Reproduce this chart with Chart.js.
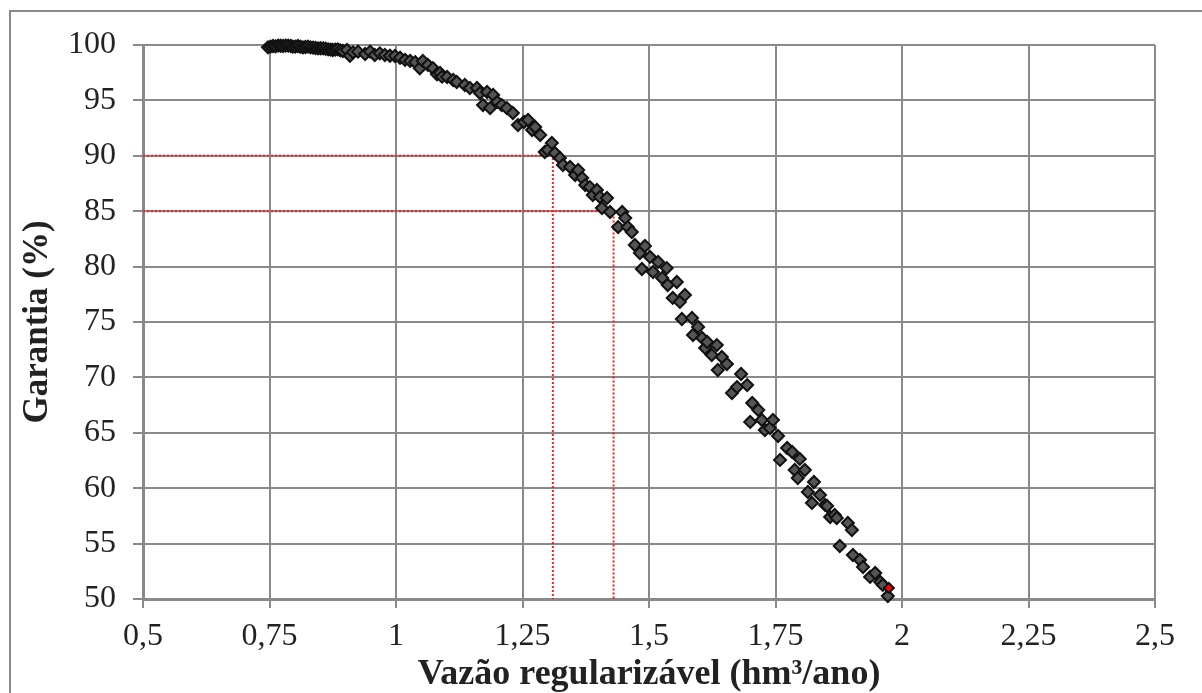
<!DOCTYPE html>
<html>
<head>
<meta charset="utf-8">
<script src="https://cdn.jsdelivr.net/npm/chart.js@4"></script>
<style>
  body { margin: 0; background: #fff; overflow: hidden; }
  #frame { position: absolute; left: 9px; top: 10px; width: 1200px; height: 700px; border: 2px solid #8a8a8a; box-sizing: border-box; }
  #chart { position: absolute; left: 0; top: 0; }
</style>
</head>
<body>
<div id="frame"></div>
<canvas id="chart" width="1202" height="693"></canvas>
<script>
// Vazão regularizável (hm³/ano) x Garantia (%)
const vazao = [
  0.747, 0.752, 0.757, 0.762, 0.767, 0.772, 0.777, 0.782, 0.787, 0.792,
  0.796, 0.801, 0.806, 0.811, 0.816, 0.821, 0.826, 0.831, 0.836, 0.841,
  0.846, 0.851, 0.856, 0.861, 0.866, 0.871, 0.875, 0.880, 0.885, 0.890,
  0.895, 0.903, 0.909, 0.915, 0.925, 0.939, 0.949, 0.958, 0.968, 0.978,
  0.988, 0.998, 1.008, 1.018, 1.028, 1.038, 1.047, 1.053, 1.063, 1.073,
  1.081, 1.087, 1.091, 1.101, 1.113, 1.120, 1.136, 1.146, 1.160, 1.166,
  1.172, 1.180, 1.186, 1.192, 1.200, 1.209, 1.219, 1.231, 1.241, 1.253,
  1.261, 1.269, 1.275, 1.285, 1.294, 1.300, 1.308, 1.314, 1.324, 1.330,
  1.344, 1.354, 1.360, 1.368, 1.374, 1.383, 1.389, 1.397, 1.403, 1.407,
  1.417, 1.423, 1.439, 1.447, 1.453, 1.458, 1.466, 1.472, 1.482, 1.486,
  1.492, 1.502, 1.508, 1.518, 1.526, 1.535, 1.537, 1.547, 1.555, 1.561,
  1.565, 1.571, 1.585, 1.587, 1.597, 1.605, 1.611, 1.615, 1.624, 1.634,
  1.636, 1.644, 1.654, 1.664, 1.674, 1.682, 1.694, 1.700, 1.704, 1.716,
  1.723, 1.729, 1.739, 1.745, 1.755, 1.759, 1.773, 1.783, 1.788, 1.794,
  1.798, 1.808, 1.814, 1.822, 1.826, 1.838, 1.848, 1.852, 1.858, 1.867,
  1.871, 1.877, 1.893, 1.901, 1.903, 1.917, 1.923, 1.937, 1.947, 1.957,
  1.962, 1.972
];
const garantia = [
  99.79, 99.86, 99.91, 99.88, 99.95, 99.93, 99.91, 99.95, 99.95, 99.91,
  99.85, 99.86, 99.91, 99.84, 99.79, 99.82, 99.85, 99.79, 99.76, 99.73,
  99.70, 99.71, 99.70, 99.66, 99.61, 99.59, 99.55, 99.59, 99.61, 99.52,
  99.46, 99.55, 99.03, 99.34, 99.40, 99.19, 99.40, 99.10, 99.25, 99.10,
  99.03, 99.01, 98.85, 98.65, 98.56, 98.44, 97.90, 98.56, 98.20, 97.90,
  97.36, 97.47, 97.14, 97.11, 96.84, 96.66, 96.39, 96.12, 96.12, 95.67,
  94.58, 95.76, 94.31, 95.49, 94.86, 94.58, 94.31, 93.86, 92.78, 93.05,
  93.23, 92.33, 92.60, 91.88, 90.34, 90.52, 91.16, 90.25, 89.80, 89.17,
  88.99, 88.27, 88.72, 88.00, 87.36, 87.18, 86.46, 86.91, 86.28, 85.29,
  86.19, 84.93, 83.57, 84.93, 84.39, 83.57, 83.12, 81.95, 81.23, 79.78,
  81.86, 80.87, 79.51, 80.42, 78.97, 79.87, 78.34, 77.17, 78.61, 76.81,
  75.27, 77.44, 75.36, 73.83, 74.55, 73.56, 72.65, 73.20, 72.02, 72.92,
  70.67, 71.84, 71.21, 68.59, 69.13, 70.31, 69.31, 65.98, 67.69, 67.06,
  66.16, 65.25, 65.43, 66.16, 64.71, 62.55, 63.63, 63.27, 61.64, 60.92,
  62.64, 61.64, 59.66, 58.67, 60.56, 59.39, 58.49, 58.39, 57.40, 57.58,
  57.31, 54.78, 56.86, 56.23, 53.97, 53.52, 52.89, 51.99, 52.35, 51.54,
  51.27, 50.27
];
const destaqueX = [1.974];
const destaqueY = [51.0];

// reference lines: 90% and 85% guarantee
const ref90X = [0.5, 1.31, 1.31];
const ref90Y = [90, 90, 50];
const ref85X = [0.5, 1.43, 1.43];
const ref85Y = [85, 85, 50];

const xTicks = [0.5, 0.75, 1, 1.25, 1.5, 1.75, 2, 2.25, 2.5];
const yTicks = [50, 55, 60, 65, 70, 75, 80, 85, 90, 95, 100];

const pts = (xs, ys) => xs.map((x, i) => ({ x: x, y: ys[i] }));
const fmt = v => String(Number(v.toFixed(2))).replace('.', ',');

const gridColor = '#8a8a8a';
const serif = '"Liberation Serif", "DejaVu Serif", serif';

const refLine = {
  showLine: true,
  borderColor: '#ff1a1a',
  borderWidth: 2,
  borderDash: [2, 2],
  pointRadius: 0,
  fill: false,
  order: 2
};

new Chart(document.getElementById('chart'), {
  type: 'scatter',
  data: {
    datasets: [
      Object.assign({ data: pts(ref90X, ref90Y) }, refLine),
      Object.assign({ data: pts(ref85X, ref85Y) }, refLine),
      {
        data: pts(vazao, garantia),
        pointStyle: 'rectRot',
        pointRadius: 6,
        pointBackgroundColor: '#555555',
        pointBorderColor: '#111111',
        pointBorderWidth: 2,
        clip: false,
        order: 1
      },
      {
        data: pts(destaqueX, destaqueY),
        pointStyle: 'rectRot',
        pointRadius: 5,
        pointBackgroundColor: '#ff0000',
        pointBorderColor: '#111111',
        pointBorderWidth: 2,
        clip: false,
        order: 0
      }
    ]
  },
  options: {
    responsive: false,
    animation: false,
    layout: { padding: { left: 0, right: 47, top: 45, bottom: 0 } },
    plugins: { legend: { display: false }, tooltip: { enabled: false } },
    scales: {
      x: {
        type: 'linear',
        min: 0.5,
        max: 2.5,
        afterBuildTicks: s => { s.ticks = xTicks.map(v => ({ value: v })); },
        afterFit: s => { s.height = 94; },
        grid: { color: gridColor, lineWidth: 2, tickLength: 9 },
        border: { color: gridColor, width: 3 },
        ticks: {
          padding: 9,
          color: '#222',
          font: { family: serif, size: 32 },
          callback: v => fmt(v)
        },
        title: {
          display: true,
          text: 'Vazão regularizável (hm³/ano)',
          color: '#222',
          font: { family: serif, size: 36, weight: 'bold' },
          padding: { top: 0, bottom: -3 }
        }
      },
      y: {
        type: 'linear',
        min: 50,
        max: 100,
        afterBuildTicks: s => { s.ticks = yTicks.map(v => ({ value: v })); },
        afterFit: s => { s.width = 143; },
        grid: { color: gridColor, lineWidth: 2, tickLength: 10 },
        border: { color: gridColor, width: 3 },
        ticks: {
          padding: 17,
          color: '#222',
          font: { family: serif, size: 32 },
          callback: v => fmt(v)
        },
        title: {
          display: true,
          text: 'Garantia (%)',
          color: '#222',
          font: { family: serif, size: 35, weight: 'bold' },
          padding: { top: 17, bottom: 0 }
        }
      }
    }
  }
});
</script>
</body>
</html>
